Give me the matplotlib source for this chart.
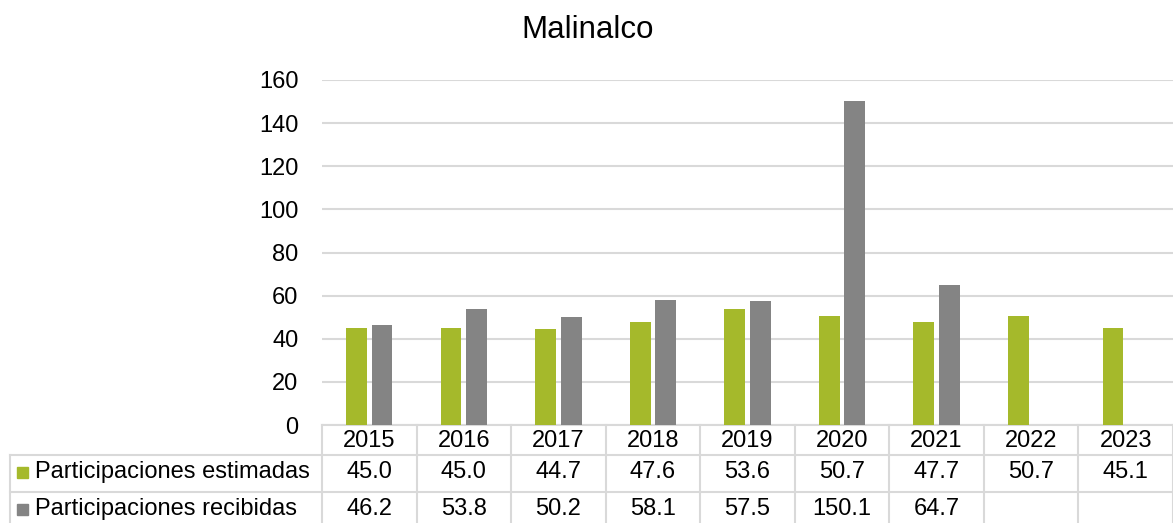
import numpy as np
import matplotlib.pyplot as plt
from matplotlib.transforms import blended_transform_factory

plt.rcParams['font.family'] = ['Liberation Sans', 'DejaVu Sans']

years = ['2015', '2016', '2017', '2018', '2019', '2020', '2021', '2022', '2023']
estimadas = [45.0, 45.0, 44.7, 47.6, 53.6, 50.7, 47.7, 50.7, 45.1]
recibidas = [46.2, 53.8, 50.2, 58.1, 57.5, 150.1, 64.7, np.nan, np.nan]
series_names = ['Participaciones estimadas', 'Participaciones recibidas']
colors = ['#A5B92B', '#848484']

W, H = 1173, 523
fig = plt.figure(figsize=(W / 100, H / 100), dpi=100)
ax = fig.add_axes([322 / W, (H - 425) / H, (1173 - 322) / W, (425 - 80) / H])

x = np.arange(len(years))
bw = 0.22
ax.bar(x - 0.135, estimadas, bw, color=colors[0], zorder=3)
ax.bar(x + 0.135, recibidas, bw, color=colors[1], zorder=3)

ax.set_xlim(-0.5, len(years) - 0.5)
ax.set_ylim(0, 160)
ax.set_yticks(range(0, 161, 20))
ax.grid(axis='y', color='#D9D9D9', linewidth=1.5, zorder=0)
ax.tick_params(axis='y', length=0, labelsize=17, pad=17)
ax.tick_params(axis='x', length=0, labelbottom=False)
for s in ['top', 'right', 'left']:
    ax.spines[s].set_visible(False)
ax.spines['bottom'].set_color('#D9D9D9')
ax.spines['bottom'].set_linewidth(1.5)

fig.text(588 / W, 1 - 30 / H, 'Malinalco', ha='center', va='center', fontsize=22.5)

# data table under the axis
def fy(py):
    return (H - py) / H

tr = blended_transform_factory(ax.transData, fig.transFigure)
line_c = '#D9D9D9'
for i in range(len(years) + 1):
    ax.plot([i - 0.5, i - 0.5], [fy(425), fy(H)], transform=tr, color=line_c,
            lw=1.5, clip_on=False)
for py in [455, 492]:
    fig.add_artist(plt.Line2D([10 / W, 1.0], [fy(py), fy(py)], color=line_c, lw=1.5))
fig.add_artist(plt.Line2D([10 / W, 10 / W], [fy(455), fy(H)], color=line_c, lw=1.5))

rows = [estimadas, recibidas]
row_y = [472, 509]
fs = 17
for i, yr in enumerate(years):
    ax.text(i, fy(441), yr, transform=tr, ha='center', va='center', fontsize=fs)
    for r, vals in enumerate(rows):
        v = vals[i]
        if not np.isnan(v):
            ax.text(i, fy(row_y[r]), f'{v:.1f}', transform=tr, ha='center',
                    va='center', fontsize=fs)

for r, name in enumerate(series_names):
    fig.patches.append(plt.Rectangle((17 / W, fy(row_y[r] + 6)), 11 / W, 11 / H,
                                     transform=fig.transFigure, color=colors[r]))
    fig.text(35 / W, fy(row_y[r]), name, ha='left', va='center', fontsize=fs)

fig.savefig('out.png', dpi=100)
